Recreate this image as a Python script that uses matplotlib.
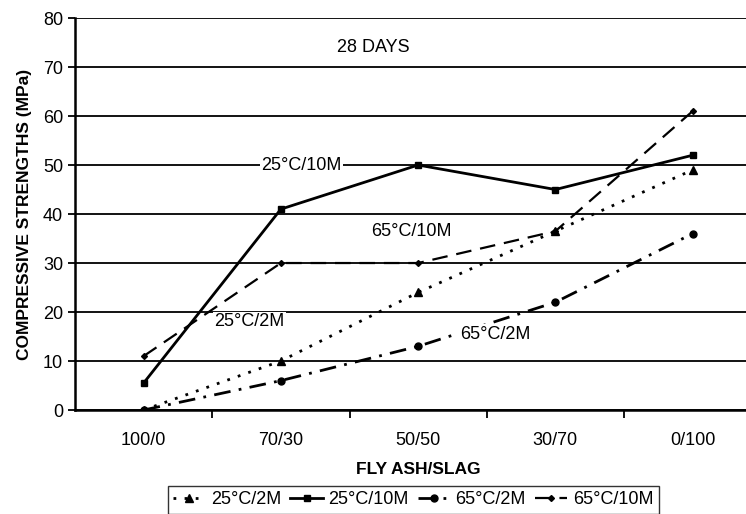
import matplotlib
matplotlib.use('Agg')
import matplotlib.pyplot as plt

plt.rcParams['font.family'] = ['Liberation Sans', 'DejaVu Sans']

categories = ['100/0', '70/30', '50/50', '30/70', '0/100']
s25_2m = [0, 10, 24, 36.5, 49]
s25_10m = [5.5, 41, 50, 45, 52]
s65_2m = [0, 6, 13, 22, 36]
s65_10m = [11, 30, 30, 36.5, 61]

fig = plt.figure(figsize=(7.46, 5.14), dpi=100)
fig.patch.set_facecolor('white')
ax = fig.add_axes([0.1005, 0.2023, 0.92, 0.7626])

x = list(range(len(categories)))
ax.plot(x, s25_2m, color='black', linestyle=(0, (1, 3)), linewidth=2.0,
        marker='^', markersize=6, label='25°C/2M')
ax.plot(x, s25_10m, color='black', linestyle='-', linewidth=2.0,
        marker='s', markersize=5, label='25°C/10M')
ax.plot(x, s65_2m, color='black', linestyle=(0, (6, 3, 1, 3)), linewidth=2.0,
        marker='o', markersize=5, label='65°C/2M')
ax.plot(x, s65_10m, color='black', linestyle=(0, (7, 4)), linewidth=1.6,
        marker='D', markersize=3, label='65°C/10M')

ax.set_xlim(-0.5, 4.5)
ax.set_ylim(0, 80)
ax.set_yticks(range(0, 81, 10))
ax.yaxis.grid(True, color='black', linewidth=1.3)
ax.set_axisbelow(True)
ax.set_xticks(x)
ax.set_xticklabels(categories, fontsize=13)
ax.set_xticks([0.5, 1.5, 2.5, 3.5], minor=True)
ax.tick_params(axis='x', which='major', length=0, pad=16)
ax.tick_params(axis='x', which='minor', length=6, width=1.3, direction='out')
ax.tick_params(axis='y', length=5, width=1.3, labelsize=13)
for side in ['top', 'right']:
    ax.spines[side].set_visible(False)
ax.spines['left'].set_linewidth(1.8)
ax.spines['bottom'].set_linewidth(1.8)

ax.set_ylabel('COMPRESSIVE STRENGTHS (MPa)', fontsize=12.5, fontweight='bold', labelpad=8)
ax.set_xlabel('FLY ASH/SLAG', fontsize=12.5, fontweight='bold', labelpad=9)

bbox = dict(facecolor='white', edgecolor='none', pad=1)
ax.text(1.67, 74, '28 DAYS', fontsize=13, ha='center', va='center')
ax.text(1.15, 50, '25°C/10M', fontsize=13, ha='center', va='center', bbox=bbox)
ax.text(1.95, 36.5, '65°C/10M', fontsize=13, ha='center', va='center')
ax.text(0.77, 18, '25°C/2M', fontsize=13, ha='center', va='center', bbox=bbox)
ax.text(2.56, 15.5, '65°C/2M', fontsize=13, ha='center', va='center', bbox=bbox)

fig.legend(loc='upper center', bbox_to_anchor=(0.554, 0.072), ncol=4,
           frameon=True, fancybox=False, edgecolor='black', fontsize=13,
           handlelength=1.8, handletextpad=0.3, columnspacing=0.5,
           borderpad=0.3)

plt.savefig('out.png', dpi=100, facecolor='white')
plt.close()
